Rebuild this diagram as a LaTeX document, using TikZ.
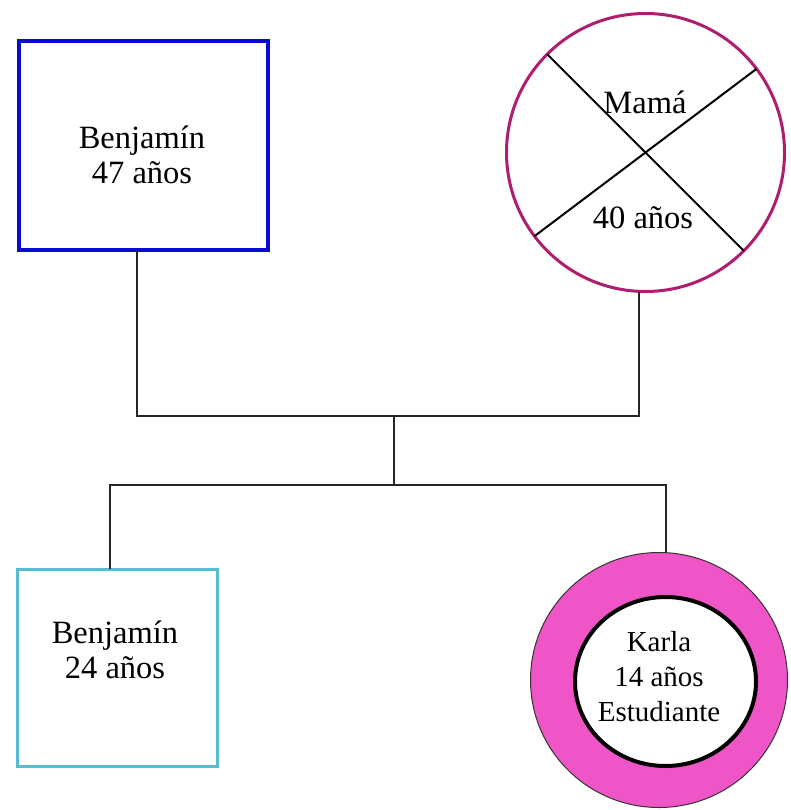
\documentclass[tikz,border=0pt]{standalone}
\usepackage{fontspec}
\setmainfont{Liberation Serif}
\usetikzlibrary{shapes.geometric,calc}
\definecolor{dadblue}{RGB}{10,10,215}
\definecolor{sonblue}{RGB}{85,190,210}
\definecolor{momcol}{RGB}{175,30,110}
\definecolor{ringpink}{RGB}{240,85,200}
\tikzset{
  txt/.style={font=\fontsize{32.5}{35}\selectfont, align=center, inner sep=0pt},
  conn/.style={draw=black!85, line width=1.6pt},
  malebox/.style={rectangle, inner sep=0pt, outer sep=0pt},
}
\begin{document}
\begin{tikzpicture}[x=1pt,y=-1pt]
\useasboundingbox[fill=white] (0,0) rectangle (790,810);
% father
\node[malebox, draw=dadblue, line width=4pt, minimum width=249pt, minimum height=209pt] (dad) at (143.5,145.5) {};
\node[txt] (dadtxt) at (142,154.5) {Benjamín\\47 años};
% mother
\node[circle, draw=momcol, line width=3pt, minimum size=278pt, inner sep=0pt, outer sep=0pt] (mom) at (645.5,152.5) {};
\draw[line width=2pt] (mom.135) -- (mom.-45);
\draw[line width=2pt] (mom.37) -- (mom.217);
\node[txt] (momname) at (645,102) {Mamá};
\node[txt] (momage) at (643,218) {40 años};
% son
\node[malebox, draw=sonblue, line width=3pt, minimum width=200pt, minimum height=197pt] (son) at (117,667.5) {};
\node[txt] (sontxt) at (115,650) {Benjamín\\24 años};
% daughter
\node[ellipse, fill=ringpink, draw=black!80, line width=1pt, minimum width=257pt, minimum height=255pt, inner sep=0pt, outer sep=0pt] (kar) at (659,680) {};
\node[ellipse, fill=white, draw=black, line width=4pt, minimum width=181pt, minimum height=169pt, inner sep=0pt] (karin) at (665.5,681.5) {};
\node[txt, font=\fontsize{29}{35}\selectfont] (kartxt) at (659,677) {Karla\\14 años\\Estudiante};
% connectors
\coordinate (j1) at (394,416);
\coordinate (j2) at (394,485);
\draw[conn] ([xshift=-6.5pt]dad.south) |- (j1) -| ([xshift=-6.5pt]mom.south);
\draw[conn] (j1) -- (j2);
\draw[conn] ([xshift=-7pt]son.north) |- (j2) -| ([xshift=7pt]kar.north);
\end{tikzpicture}
\end{document}
